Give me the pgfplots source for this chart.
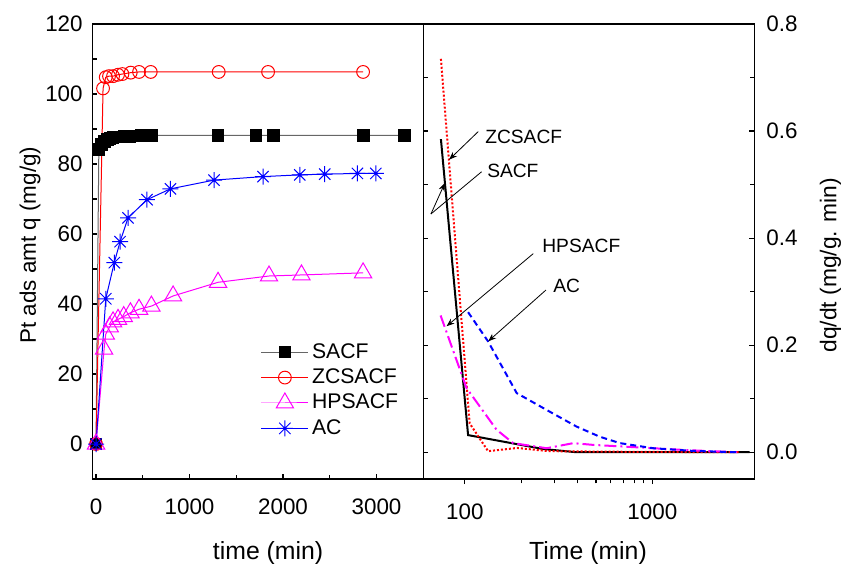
\documentclass[border=0pt]{standalone}
\usepackage{fontspec}
\setmainfont{Liberation Sans}
\usepackage{pgfplots}
\pgfplotsset{compat=1.18}
\usetikzlibrary{arrows.meta}
\definecolor{mag}{RGB}{255,0,255}
\definecolor{blu}{RGB}{0,0,255}
\definecolor{rd}{RGB}{255,0,0}
\pgfdeclareplotmark{ast8}{%
 \pgfpathmoveto{\pgfqpoint{-\pgfplotmarksize}{0pt}}\pgfpathlineto{\pgfqpoint{\pgfplotmarksize}{0pt}}%
 \pgfpathmoveto{\pgfqpoint{0pt}{-\pgfplotmarksize}}\pgfpathlineto{\pgfqpoint{0pt}{\pgfplotmarksize}}%
 \pgfpathmoveto{\pgfqpoint{-0.707\pgfplotmarksize}{-0.707\pgfplotmarksize}}\pgfpathlineto{\pgfqpoint{0.707\pgfplotmarksize}{0.707\pgfplotmarksize}}%
 \pgfpathmoveto{\pgfqpoint{-0.707\pgfplotmarksize}{0.707\pgfplotmarksize}}\pgfpathlineto{\pgfqpoint{0.707\pgfplotmarksize}{-0.707\pgfplotmarksize}}%
 \pgfusepathqstroke
 \pgfpathcircle{\pgfpointorigin}{0.8pt}\pgfusepathqfill}
\begin{document}
\begin{tikzpicture}
\useasboundingbox (-46.15pt,-42pt) rectangle (379.85pt,239.5pt);
\pgfplotsset{
  every axis/.append style={
    scale only axis, width=165.5pt, height=227.5pt,
    font=\fontsize{11.2}{13.4}\selectfont,
    axis line style={line width=0.75pt},
    every tick/.style={line width=0.6pt, black},
    major tick length=2.6pt, minor tick length=2.2pt,
    /pgf/number format/assume math mode=true,
    xticklabel style={yshift=-6.5pt},
  }
}
\begin{axis}[
  at={(0pt,0pt)}, anchor=south west,
  xmin=-40, xmax=3500, ymin=-10, ymax=120,
  xtick={0,1000,2000,3000}, minor xtick={500,1500,2500},
  ytick={0,20,...,120}, minor ytick={-10,10,30,50,70,90,110},
  tick pos=left, tick align=inside,
  scaled x ticks=false,
  /pgf/number format/1000 sep={},
  xlabel={time (min)}, ylabel={Pt ads amt q (mg/g)},
  every axis x label/.style={at={(axis description cs:0.531,-0.163)}, anchor=center, font=\fontsize{12.4}{14}\selectfont},
  every axis y label/.style={at={(axis description cs:-0.188,0.514)}, anchor=center, rotate=90, font=\fontsize{11.2}{13}\selectfont},
  yticklabel style={xshift=-1.3pt},
  legend style={draw=none, fill=none, at={(axis description cs:0.49,0.315)}, anchor=north west,
     font=\fontsize{10.6}{12.6}\selectfont, row sep=0.6pt, nodes={inner sep=1.6pt}},
  legend cell align=left,
  legend image code/.code={\draw[mark repeat=2,mark phase=2] plot coordinates {(0pt,0pt) (11.75pt,0pt) (23.5pt,0pt)};},
]
\addplot[black!60, line width=0.5pt, mark=square*, mark size=2.9pt, mark options={black, solid, fill=black}] coordinates {
(0,0) (30,84.2) (60,85.6) (90,86.5) (120,87) (150,87.3) (180,87.5) (240,87.7) (300,87.8) (360,87.9) (420,88) (480,88.1) (600,88.2) (1305,88.2) (1710,88.2) (1900,88.2) (2860,88.2) (3300,88.2)};
\addplot[rd, line width=0.5pt, mark=o, mark size=3.2pt, mark options={rd, solid, fill=white}] coordinates {
(0,0) (75,101.6) (104,104.8) (139,105.1) (182,105.1) (235,105.5) (282,105.7) (371,106.1) (460,106.3) (585,106.3) (1312,106.3) (1840,106.3) (2856,106.3)};
\addplot[mag, line width=0.5pt, mark=triangle, mark size=5pt, mark options={mag, solid, fill=white}] coordinates {
(0,0) (86,27.1) (104,31.4) (146,33.5) (182,34.9) (235,35.6) (296,36.4) (368,37.5) (460,38.5) (592,39.4) (824,42.3) (1305,46.2) (1850,48) (2197,48.3) (2856,48.9)};
\addplot[blu, line width=0.5pt, mark=ast8, mark size=4pt, mark options={blu, solid, line width=0.5pt}] coordinates {
(0,0) (104,41.5) (195,51.8) (257,57.8) (342,64.6) (545,69.8) (796,72.9) (1262,75.4) (1786,76.4) (2179,76.9) (2446,77.1) (2796,77.3) (2992,77.3)};
\legend{SACF,ZCSACF,HPSACF,AC}
\end{axis}
\begin{axis}[
  at={(165.5pt,0pt)}, anchor=south west,
  xmode=log, xmin=60, xmax=3500, ymin=-0.05, ymax=0.8,
  xtick={100,1000}, xticklabels={100,1000},
  ytick={0,0.2,0.4,0.6,0.8}, minor ytick={0.1,0.3,0.5,0.7},
  yticklabel pos=right, ytick pos=both, xtick pos=bottom,
  /pgf/number format/fixed, /pgf/number format/fixed zerofill, /pgf/number format/precision=1,
  yticklabel style={xshift=2.5pt},
  ytick align=inside, xtick align=outside,
  xlabel={Time (min)}, ylabel={dq/dt (mg/g. min)},
  every axis x label/.style={at={(axis description cs:0.4976,-0.163)}, anchor=center, font=\fontsize{12.4}{14}\selectfont},
  every axis y label/.style={at={(axis description cs:1.23,0.47)}, anchor=center, rotate=90, font=\fontsize{11.4}{13}\selectfont},
]
\addplot[black, line width=1pt] coordinates {(74.5,0.585) (104,0.032) (262,0.006) (394,0.0) (3300,0.0)};
\addplot[rd, line width=1pt, dash pattern=on 1pt off 1pt] coordinates {(74.5,0.735) (106,0.054) (133,0.002) (190,0.008) (280,0.002) (600,0.001) (2900,0)};
\addplot[mag, line width=1pt, dash pattern=on 6pt off 2pt on 1pt off 2pt] coordinates {(74.2,0.2555) (102,0.12) (147.6,0.042) (181,0.017) (273,0.0075) (379,0.017) (485,0.0137) (1010,0.0075) (1524,0.004) (2830,0)};
\addplot[blu, line width=1pt, dash pattern=on 3pt off 2pt] coordinates {(104,0.2617) (133,0.207) (189,0.1105) (273,0.079) (394,0.048) (524,0.029) (672,0.017) (1010,0.0075) (1650,0.0025) (2830,0)};
\begin{scope}[font=\fontsize{9.6}{11}\selectfont]
\node[anchor=west, inner sep=0pt] at (axis cs:127.9,0.589) {ZCSACF};
\draw[-{Stealth[length=4pt,width=3pt]}, line width=0.4pt] (axis cs:117.8,0.599) -- (axis cs:82.4,0.5466);
\node[anchor=west, inner sep=0pt] at (axis cs:131,0.525) {SACF};
\draw[line width=0.4pt] (axis cs:122.8,0.524) -- (axis cs:65.9,0.4451);
\draw[-{Stealth[length=4pt,width=3pt]}, line width=0.4pt] (axis cs:65.9,0.4451) -- (axis cs:78.2,0.5029);
\node[anchor=west, inner sep=0pt] at (axis cs:257.8,0.385) {HPSACF};
\draw[-{Stealth[length=4pt,width=3pt]}, line width=0.4pt] (axis cs:231.6,0.371) -- (axis cs:79.85,0.2354);
\node[anchor=west, inner sep=0pt] at (axis cs:295,0.31) {AC};
\draw[-{Stealth[length=4pt,width=3pt]}, line width=0.4pt] (axis cs:270.6,0.303) -- (axis cs:133.2,0.2073);
\end{scope}
\end{axis}
\end{tikzpicture}
\end{document}
